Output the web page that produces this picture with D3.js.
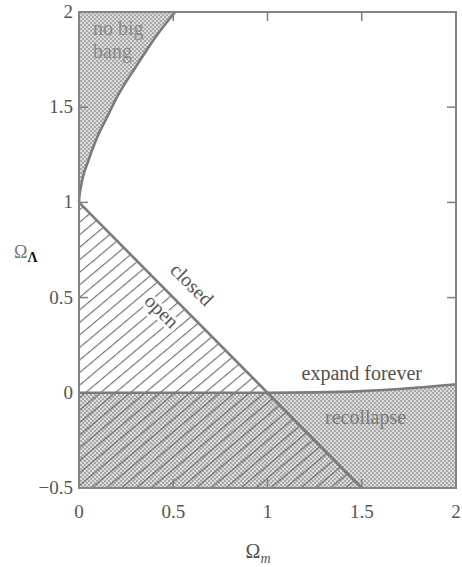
<!DOCTYPE html>
<html>
<head>
<meta charset="utf-8">
<script src="https://cdn.jsdelivr.net/npm/d3@7"></script>
<style>
  html, body { margin: 0; padding: 0; background: #ffffff; }
  svg { display: block; }
  text { font-family: "Liberation Serif", "DejaVu Serif", serif; }
</style>
</head>
<body>
<div id="chart"></div>
<script>
// Axis ticks
const xTicks = [0, 0.5, 1, 1.5, 2];
const yTicks = [-0.5, 0, 0.5, 1, 1.5, 2];
const xTickLabels = ["0", "0.5", "1", "1.5", "2"];
const yTickLabels = ["\u22120.5", "0", "0.5", "1", "1.5", "2"];

// Boundary of the "no big bang" region (Ω_m, Ω_Λ)
const noBigBangOm = [0, 0.002, 0.01, 0.02, 0.05, 0.1, 0.15, 0.2, 0.3, 0.4, 0.51];
const noBigBangOl = [1, 1.03, 1.08, 1.13, 1.22, 1.35, 1.45, 1.55, 1.71, 1.86, 2];

// Flat universe line separating closed from open
const flatOm = [0, 1.5];
const flatOl = [1, -0.5];

// Boundary between expanding forever and recollapse
const collapseOm = [0, 1, 1.25, 1.5, 1.75, 2];
const collapseOl = [0, 0, 0.002, 0.009, 0.024, 0.045];

// Region labels with their anchor positions (Ω_m, Ω_Λ)
const regionNames = ["closed", "open", "expand forever", "recollapse"];
const regionOm = [0.6, 0.44, 1.5, 1.52];
const regionOl = [0.57, 0.43, 0.105, -0.125];

const W = 462, H = 567;
const svg = d3.select("#chart").append("svg").attr("width", W).attr("height", H);

const x = d3.scaleLinear().domain([0, 2]).range([79, 456]);
const y = d3.scaleLinear().domain([-0.5, 2]).range([488, 12]);

const defs = svg.append("defs");

// halftone screen used for the shaded regions
const dots = defs.append("pattern").attr("id", "screen")
  .attr("patternUnits", "userSpaceOnUse").attr("width", 4).attr("height", 4);
dots.append("rect").attr("width", 4).attr("height", 4).attr("fill", "#dadada");
dots.append("rect").attr("x", 0).attr("y", 0).attr("width", 2).attr("height", 2).attr("fill", "#a9a9a9");
dots.append("rect").attr("x", 2).attr("y", 2).attr("width", 2).attr("height", 2).attr("fill", "#a9a9a9");

// diagonal hatching for the open region
const hatch = defs.append("pattern").attr("id", "hatch")
  .attr("patternUnits", "userSpaceOnUse").attr("width", 9.6).attr("height", 20)
  .attr("patternTransform", "rotate(50)");
hatch.append("line").attr("x1", 0.6).attr("y1", -1).attr("x2", 0.6).attr("y2", 21)
  .attr("stroke", "#6a6a6a").attr("stroke-width", 1.1);

const pts = (a, b) => a.map((v, i) => [v, b[i]]);
const line = d3.line().x(d => x(d[0])).y(d => y(d[1]));
const curve = d3.line().x(d => x(d[0])).y(d => y(d[1])).curve(d3.curveMonotoneX);

const noBigBang = pts(noBigBangOm, noBigBangOl);
const flat = pts(flatOm, flatOl);
const collapse = pts(collapseOm, collapseOl);

// shaded regions
const nbbArea = noBigBang.concat([[0, 2]]);
svg.append("path")
  .attr("d", d3.line().x(d => x(d[0])).y(d => y(d[1])).curve(d3.curveLinear)(nbbArea) + "Z")
  .attr("fill", "url(#screen)");

const recArea = collapse.concat([[2, -0.5], [0, -0.5]]);
svg.append("path").attr("d", line(recArea) + "Z").attr("fill", "url(#screen)");

const openArea = flat.concat([[0, -0.5]]);
svg.append("path").attr("d", line(openArea) + "Z").attr("fill", "url(#hatch)");

// boundary curves
const stroke = "#7b7b7b";
svg.append("path").attr("d", curve(noBigBang)).attr("fill", "none")
  .attr("stroke", stroke).attr("stroke-width", 2.6);
svg.append("path").attr("d", line(flat)).attr("fill", "none")
  .attr("stroke", stroke).attr("stroke-width", 2.6);
svg.append("path").attr("d", curve(collapse)).attr("fill", "none")
  .attr("stroke", stroke).attr("stroke-width", 2.6);

// frame and ticks on all four sides
const frame = "#848484";
svg.append("rect")
  .attr("x", x(0)).attr("y", y(2))
  .attr("width", x(2) - x(0)).attr("height", y(-0.5) - y(2))
  .attr("fill", "none").attr("stroke", frame).attr("stroke-width", 2);

const tl = 9;
const innerX = xTicks.filter(v => v > 0 && v < 2);
const innerY = yTicks.filter(v => v > -0.5 && v < 2 && v !== 0);
const tg = svg.append("g").attr("stroke", frame).attr("stroke-width", 1.6);
innerX.forEach(v => {
  tg.append("line").attr("x1", x(v)).attr("x2", x(v)).attr("y1", y(-0.5)).attr("y2", y(-0.5) - tl);
  tg.append("line").attr("x1", x(v)).attr("x2", x(v)).attr("y1", y(2)).attr("y2", y(2) + tl);
});
innerY.forEach(v => {
  tg.append("line").attr("y1", y(v)).attr("y2", y(v)).attr("x1", x(0)).attr("x2", x(0) + tl);
  tg.append("line").attr("y1", y(v)).attr("y2", y(v)).attr("x1", x(2)).attr("x2", x(2) - tl);
});

// tick labels
const tickColor = "#555";
svg.append("g").selectAll("text").data(xTicks).join("text")
  .attr("x", d => x(d)).attr("y", 518)
  .attr("text-anchor", "middle").attr("font-size", 19).attr("fill", tickColor)
  .text((d, i) => xTickLabels[i]);
svg.append("g").selectAll("text").data(yTicks).join("text")
  .attr("x", x(0) - 6).attr("y", d => y(d) + 6)
  .attr("text-anchor", "end").attr("font-size", 19).attr("fill", tickColor)
  .text((d, i) => yTickLabels[i]);

// axis titles
const xt = svg.append("text").attr("x", 258).attr("y", 558)
  .attr("text-anchor", "middle").attr("font-size", 20).attr("fill", "#555");
xt.append("tspan").text("\u03A9");
xt.append("tspan").attr("dy", 5).attr("font-size", 14).attr("font-style", "italic").text("m");

const yt = svg.append("text").attr("x", 14).attr("y", 258)
  .attr("font-size", 18).attr("fill", "#777");
yt.append("tspan").text("\u03A9");
yt.append("tspan").attr("dy", 4).attr("font-size", 14).attr("font-weight", "bold")
  .attr("fill", "#111").text("\u039B");

// region labels
svg.append("text").attr("x", 93).attr("y", 35).attr("font-size", 20).attr("fill", "#8a8a8a").text("no big");
svg.append("text").attr("x", 93).attr("y", 58).attr("font-size", 20).attr("fill", "#8a8a8a").text("bang");

const labelColor = ["#555", "#555", "#505050", "#7c7c7c"];
const labelRot = [45, 45, 0, 0];
regionNames.forEach((name, i) => {
  const t = svg.append("text")
    .attr("transform", `translate(${x(regionOm[i])},${y(regionOl[i])}) rotate(${labelRot[i]})`)
    .attr("text-anchor", "middle").attr("dy", "0.35em")
    .attr("font-size", 20).attr("fill", labelColor[i]).text(name);
  if (name === "open") {
    t.attr("stroke", "#fff").attr("stroke-width", 6).attr("paint-order", "stroke");
  }
});
</script>
</body>
</html>
